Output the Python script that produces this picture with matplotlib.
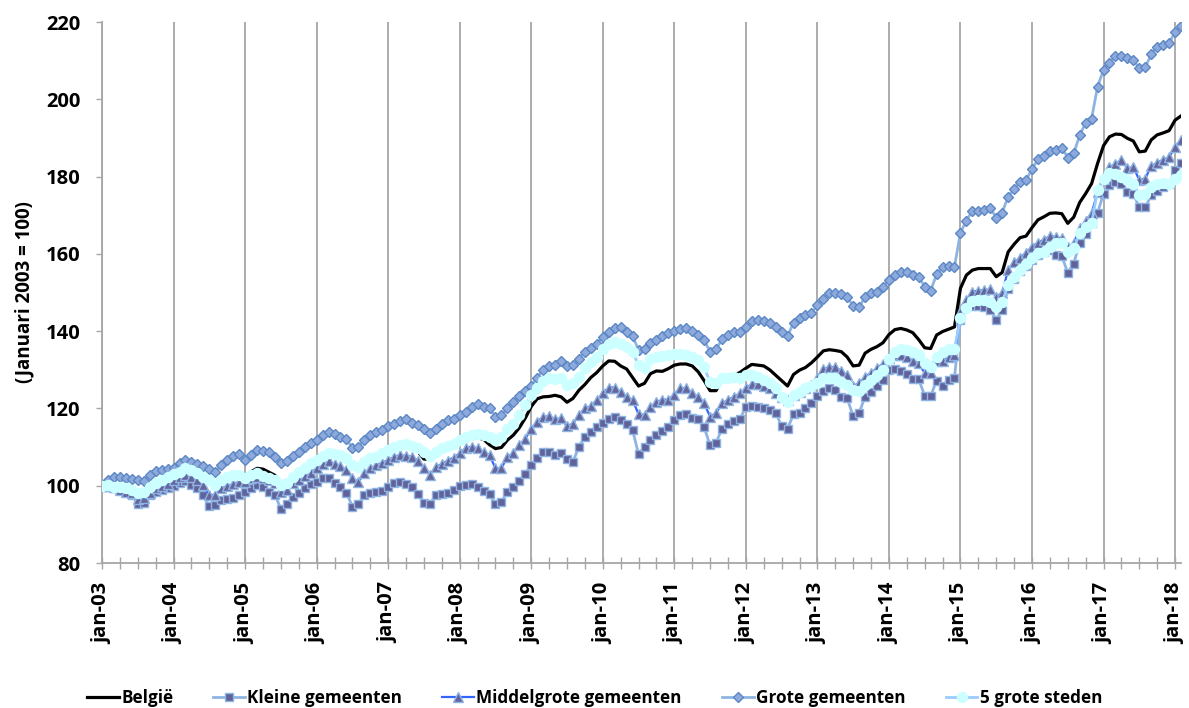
import numpy as np
import matplotlib
matplotlib.use("Agg")
import matplotlib.pyplot as plt
from matplotlib import font_manager
from matplotlib.ticker import MultipleLocator

# pick the first candidate family that really has a bold face installed
candidates = ['Open Sans', 'Lato', 'Noto Sans', 'Roboto', 'Liberation Sans', 'DejaVu Sans']
bold_fams = {f.name for f in font_manager.fontManager.ttflist
             if (f.weight if isinstance(f.weight, int) else 700 if 'bold' in str(f.weight).lower() else 400) >= 600}
family = next(c for c in candidates if c in bold_fams)
plt.rcParams['font.family'] = [family, 'DejaVu Sans']

# index, januari 2003 = 100, one value per month (jan-03 .. feb-18)
belgie = [
    100.0, 100.1, 99.8, 99.6, 99.3, 98.9, 98.0, 98.3, 99.5, 100.5, 101.2, 101.6,
    102.2, 102.9, 103.6, 103.3, 102.6, 101.6, 100.5, 99.8, 101.0, 101.8, 102.3, 102.6,
    102.4, 103.6, 104.5, 104.3, 103.5, 102.7, 101.0, 101.2, 102.6, 103.7, 104.5, 105.4,
    106.0, 107.0, 107.8, 107.6, 107.2, 106.4, 104.6, 104.2, 105.6, 106.5, 107.0, 107.8,
    108.6, 109.3, 109.9, 110.2, 109.6, 108.8, 106.9, 106.8, 108.2, 109.1, 109.7, 110.4,
    111.0, 111.7, 112.2, 112.4, 112.0, 110.6, 109.6, 109.9, 111.8, 113.1, 115.0, 117.5,
    120.5, 122.5, 123.0, 123.1, 123.4, 123.0, 121.6, 122.6, 124.7, 126.2, 128.0, 129.3,
    131.0, 132.3, 132.2, 131.0, 130.2, 128.0, 125.8, 126.5, 129.0, 129.7, 129.6, 130.3,
    131.2, 131.5, 131.5, 131.0, 129.5, 127.2, 124.6, 124.6, 127.6, 128.5, 128.6, 129.3,
    130.4, 131.4, 131.2, 131.0, 130.0, 128.6, 127.2, 125.8, 128.8, 129.9, 130.6, 131.8,
    133.3, 134.9, 135.2, 135.0, 134.7, 133.3, 131.0, 131.2, 134.3, 135.3, 136.0, 137.0,
    139.1, 140.4, 140.7, 140.3, 139.6, 137.8, 135.7, 135.5, 139.0, 139.9, 140.5, 141.1,
    151.1, 154.5, 155.8, 156.2, 156.2, 156.2, 154.1, 155.2, 160.5, 162.5, 164.2, 164.6,
    166.8, 168.8, 169.6, 170.5, 170.6, 170.4, 167.9, 169.5, 173.3, 175.6, 178.2, 183.4,
    188.0, 190.3, 191.0, 190.9, 189.9, 189.2, 186.4, 186.6, 189.5, 190.8, 191.3, 191.9,
    194.6, 195.7,
]

kleine = [
    100.0, 99.6, 99.3, 98.9, 98.5, 97.6, 95.3, 95.6, 97.5, 98.4, 98.9, 99.3,
    99.9, 100.6, 101.3, 100.3, 99.4, 97.6, 94.7, 95.0, 96.3, 96.5, 96.7, 97.6,
    98.4, 99.5, 100.2, 99.6, 98.4, 97.6, 94.1, 95.2, 97.2, 98.2, 99.3, 100.4,
    101.0, 101.9, 102.0, 100.8, 99.6, 98.2, 94.6, 95.2, 97.6, 98.0, 98.4, 98.7,
    99.7, 100.6, 101.0, 100.4, 99.7, 97.8, 95.4, 95.3, 97.6, 97.8, 98.2, 98.9,
    100.0, 100.3, 100.4, 99.7, 98.7, 97.8, 95.3, 95.9, 98.4, 99.7, 101.2, 103.1,
    105.4, 107.1, 108.6, 108.8, 107.9, 108.4, 106.8, 106.2, 110.1, 112.7, 114.0, 115.3,
    116.3, 117.2, 117.7, 117.0, 116.1, 114.4, 108.2, 110.1, 111.8, 113.1, 114.1, 115.3,
    117.0, 118.3, 118.5, 117.6, 117.2, 115.1, 110.5, 111.1, 114.8, 116.1, 116.8, 117.2,
    120.4, 120.6, 120.4, 120.0, 119.6, 118.9, 115.4, 114.8, 118.5, 118.7, 120.0, 121.3,
    123.2, 124.6, 125.2, 124.8, 123.0, 122.6, 118.0, 118.9, 123.0, 124.3, 125.8, 127.3,
    129.9, 130.1, 129.7, 128.9, 127.7, 127.5, 123.3, 123.2, 127.2, 125.9, 127.3, 128.0,
    142.9, 146.3, 146.5, 146.6, 146.3, 145.6, 143.0, 145.5, 151.0, 153.5, 155.5, 156.8,
    158.5, 159.8, 160.5, 161.0, 159.7, 159.4, 155.1, 157.5, 162.9, 165.2, 168.0, 170.6,
    175.6, 177.8, 178.7, 178.2, 176.1, 175.6, 172.0, 172.0, 175.2, 176.3, 177.4, 178.2,
    181.7, 183.6,
]

middelgrote = [
    100.0, 99.9, 99.6, 98.9, 98.5, 98.0, 96.5, 96.7, 98.2, 99.3, 99.9, 100.4,
    101.5, 102.3, 102.8, 102.3, 101.6, 100.2, 97.6, 97.6, 99.3, 99.9, 100.4, 101.0,
    101.0, 101.9, 102.3, 102.1, 101.5, 100.6, 98.5, 98.9, 100.6, 101.5, 102.5, 103.3,
    104.5, 105.6, 106.3, 105.6, 105.1, 104.0, 101.9, 101.0, 103.2, 104.5, 105.3, 106.0,
    106.6, 107.5, 107.9, 107.7, 107.5, 106.5, 104.5, 102.8, 104.9, 105.6, 106.5, 107.3,
    108.4, 109.7, 110.1, 109.7, 108.8, 107.9, 104.5, 104.5, 107.5, 108.4, 110.5, 112.2,
    114.6, 116.6, 117.8, 118.0, 117.2, 117.4, 115.4, 116.1, 118.3, 120.0, 120.6, 122.2,
    123.9, 125.4, 125.4, 124.3, 123.0, 122.2, 118.5, 118.3, 120.4, 121.7, 122.2, 122.3,
    123.5, 125.2, 125.3, 124.0, 123.0, 121.3, 117.9, 118.8, 121.3, 122.2, 123.0, 123.9,
    125.2, 126.3, 126.3, 125.8, 125.2, 123.9, 123.0, 122.3, 123.5, 124.3, 125.2, 126.0,
    127.8, 130.1, 130.8, 130.6, 129.8, 128.6, 125.8, 126.5, 128.2, 129.2, 130.4, 131.6,
    133.1, 133.7, 133.9, 133.4, 132.3, 131.8, 129.1, 129.1, 132.3, 132.4, 133.4, 133.8,
    145.0, 148.0, 150.2, 150.5, 150.6, 150.8, 148.9, 149.9, 155.9, 157.8, 159.0, 160.3,
    161.9, 162.9, 163.7, 164.6, 164.4, 164.0, 161.7, 162.7, 166.6, 168.6, 170.5, 176.0,
    179.5, 182.5, 183.2, 184.4, 182.1, 182.5, 179.1, 179.5, 182.7, 183.6, 184.4, 185.0,
    187.7, 189.5,
]

grote = [
    100.0, 101.6, 102.3, 102.3, 102.1, 101.8, 101.4, 101.1, 102.8, 103.9, 104.0, 104.2,
    104.7, 105.8, 106.6, 106.2, 105.5, 105.1, 104.2, 103.6, 105.3, 106.7, 107.8, 108.2,
    106.6, 107.9, 109.2, 108.9, 108.8, 107.5, 105.9, 106.4, 107.7, 108.8, 110.1, 111.0,
    111.9, 113.0, 113.9, 113.3, 112.7, 112.1, 109.7, 110.1, 111.8, 113.1, 114.0, 114.4,
    115.4, 116.1, 116.8, 117.2, 116.3, 115.7, 114.6, 113.7, 114.8, 116.1, 117.0, 117.2,
    118.3, 119.1, 120.4, 121.1, 120.4, 120.0, 117.9, 118.3, 120.0, 121.7, 123.3, 124.5,
    125.9, 128.0, 130.0, 131.0, 131.2, 132.3, 131.0, 131.2, 132.9, 134.7, 135.7, 136.8,
    138.4, 139.7, 140.7, 141.0, 139.8, 138.8, 135.1, 135.5, 137.0, 137.7, 138.8, 139.6,
    140.1, 140.5, 140.8, 140.0, 139.1, 137.8, 134.6, 135.3, 137.9, 139.0, 139.9, 139.9,
    141.2, 142.7, 143.0, 142.7, 142.0, 141.2, 139.9, 138.7, 142.2, 143.3, 144.2, 144.6,
    146.8, 148.2, 149.8, 150.0, 149.5, 148.9, 146.5, 146.2, 148.9, 150.0, 150.2, 151.4,
    153.2, 154.6, 155.4, 155.4, 154.6, 154.1, 151.5, 150.5, 154.7, 156.5, 156.8, 156.7,
    165.5, 168.6, 171.2, 171.2, 171.3, 171.8, 169.4, 170.7, 174.8, 176.7, 178.6, 179.1,
    181.9, 184.5, 185.3, 186.6, 186.9, 187.5, 184.9, 186.0, 190.7, 193.9, 195.0, 203.3,
    207.6, 209.5, 211.2, 211.2, 210.6, 210.2, 208.0, 208.3, 211.6, 213.6, 214.0, 214.5,
    217.5, 219.0,
]

steden = [
    100.0, 100.2, 99.7, 99.6, 99.3, 98.9, 98.0, 98.4, 99.7, 100.6, 101.5, 102.3,
    103.0, 103.6, 104.5, 104.1, 103.4, 102.3, 101.5, 100.2, 101.5, 102.3, 102.8, 102.8,
    101.9, 102.8, 103.2, 102.5, 101.9, 101.5, 100.2, 100.6, 102.3, 103.6, 104.5, 105.8,
    106.6, 107.6, 108.4, 108.2, 107.9, 107.1, 105.3, 104.9, 106.2, 107.1, 107.5, 108.4,
    109.2, 109.9, 110.5, 110.9, 110.3, 109.7, 108.8, 107.7, 108.8, 109.7, 110.3, 110.9,
    111.8, 112.5, 113.1, 113.5, 113.1, 112.7, 111.8, 112.7, 114.6, 116.1, 118.3, 120.8,
    123.4, 125.4, 127.0, 127.8, 127.5, 127.8, 126.0, 126.5, 128.2, 130.4, 132.1, 133.4,
    135.3, 136.8, 137.3, 136.8, 136.0, 134.7, 131.2, 130.4, 132.7, 133.4, 133.5, 133.8,
    134.1, 134.0, 133.8, 133.2, 132.5, 130.6, 126.9, 126.5, 127.8, 127.8, 128.2, 128.0,
    128.6, 128.6, 128.2, 127.3, 126.5, 125.2, 123.0, 121.7, 123.5, 124.3, 125.2, 125.8,
    126.5, 127.8, 128.0, 127.8, 126.9, 126.0, 124.8, 124.6, 126.0, 127.3, 128.6, 130.0,
    132.7, 134.5, 135.3, 135.1, 134.6, 133.9, 131.7, 130.7, 133.4, 134.7, 135.3, 135.5,
    143.3, 145.9, 147.9, 148.0, 148.0, 147.6, 146.3, 147.6, 151.9, 154.1, 155.8, 157.5,
    159.0, 160.1, 160.5, 161.7, 162.7, 162.9, 160.5, 161.4, 165.5, 167.0, 167.9, 176.5,
    179.5, 180.8, 180.6, 180.0, 179.1, 178.2, 175.2, 175.5, 177.2, 178.2, 178.4, 178.2,
    179.5, 180.4,
]

year_labels = ['jan-%02d' % y for y in range(3, 19)]

months = np.arange(len(belgie))

fig = plt.figure(figsize=(11.89, 7.08), dpi=100)
ax = fig.add_axes([0.0858, 0.2048, 0.9075, 0.7641])

ax.plot(months, belgie, color='black', lw=2.3, label='België', zorder=3)
ax.plot(months, kleine, color='#8DB4E2', lw=2.0, marker='s', ms=6.2,
        mfc='#62629A', mec='#8DB4E2', mew=1.0, label='Kleine gemeenten', zorder=4)
ax.plot(months, middelgrote, color='#3366FF', lw=1.6, marker='^', ms=6.5,
        mfc='#66669E', mec='#8DB4E2', mew=1.0, label='Middelgrote gemeenten', zorder=5)
ax.plot(months, grote, color='#8DB4E2', lw=2.0, marker='D', ms=5.6,
        mfc='#8EA9DB', mec='#5B87C5', mew=1.0, label='Grote gemeenten', zorder=6)
ax.plot(months, steden, color='#99CCFF', lw=2.0, marker='o', ms=7.2,
        mfc='#CCFFFF', mec='#CCFFFF', mew=1.0, label='5 grote steden', zorder=7)

ax.set_xlim(0, 181)
ax.set_ylim(80, 220)
ax.set_yticks(range(80, 221, 20))
ax.set_xticks(range(0, 181, 12))
ax.set_xticklabels(year_labels, rotation=90, fontweight='bold', fontsize=14.5)
ax.xaxis.set_minor_locator(MultipleLocator(3))
for lab in ax.get_yticklabels():
    lab.set_fontweight('bold')
    lab.set_fontsize(14.5)

ax.grid(axis='x', which='major', color='#A6A6A6', lw=1.3, zorder=0)
for side in ['top', 'right']:
    ax.spines[side].set_visible(False)
for side in ['left', 'bottom']:
    ax.spines[side].set_color('#A6A6A6')
    ax.spines[side].set_linewidth(1.3)

ax.tick_params(axis='y', direction='out', length=4.5, width=1, color='#A6A6A6', pad=11)
ax.tick_params(axis='x', which='both', direction='inout', length=8, width=1,
               color='#A6A6A6', pad=10)

ax.set_ylabel('(Januari 2003 = 100)', fontweight='bold', fontsize=13.5, labelpad=8)

fig.legend(loc='lower center', bbox_to_anchor=(0.5, -0.02), ncol=5, frameon=False,
           prop={'weight': 'bold', 'size': 12.3}, handlelength=1.87,
           handletextpad=0.12, columnspacing=2.35)

fig.savefig('out.png', dpi=100)
